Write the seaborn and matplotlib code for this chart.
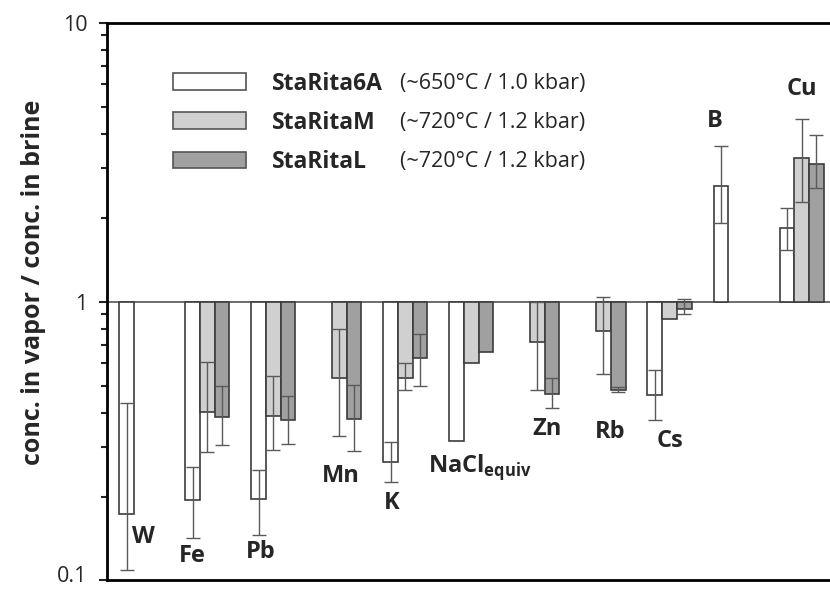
import numpy as np
import pandas as pd
import seaborn as sns
import matplotlib.pyplot as plt
import matplotlib.transforms as mtransforms
from matplotlib.patches import Patch

nan = np.nan

elements = ["W", "Fe", "Pb", "Mn", "K", "NaCl", "Zn", "Rb", "Cs", "B", "Cu"]
series = ["StaRita6A", "StaRitaM", "StaRitaL"]
conditions = ["(~650°C / 1.0 kbar)", "(~720°C / 1.2 kbar)", "(~720°C / 1.2 kbar)"]

# vapor/brine ratio, lower and upper end of the error bar
rita6a = [0.173, 0.194, 0.196, nan, 0.265, 0.316, nan, nan, 0.462, 2.60, 1.84]
rita6a_lo = [0.109, 0.142, 0.146, nan, 0.226, nan, nan, nan, 0.376, 1.92, 1.53]
rita6a_hi = [0.431, 0.256, 0.249, nan, 0.313, nan, nan, nan, 0.568, 3.61, 2.17]

ritam = [nan, 0.402, 0.388, 0.534, 0.530, 0.604, 0.716, 0.781, 0.867, nan, 3.28]
ritam_lo = [nan, 0.288, 0.293, 0.329, 0.482, nan, 0.482, 0.549, nan, nan, 2.28]
ritam_hi = [nan, 0.609, 0.541, 0.800, 0.602, nan, 1.000, 1.036, nan, nan, 4.53]

rital = [nan, 0.385, 0.375, 0.378, 0.629, 0.661, 0.467, 0.481, 0.942, nan, 3.10]
rital_lo = [nan, 0.305, 0.308, 0.291, 0.500, nan, 0.414, 0.472, 0.904, nan, 2.55]
rital_hi = [nan, 0.496, 0.459, 0.504, 0.762, nan, 0.532, 0.494, 1.020, nan, 3.94]

# element label placement (x in category units, y as ratio)
label_text = ["W", "Fe", "Pb", "Mn", "K", "NaCl$_{\\mathbf{equiv}}$", "Zn", "Rb", "Cs", "B", "Cu"]
label_x = [0.04, 0.77, 1.81, 3.02, 3.80, 5.13, 6.14, 7.10, 8.00, 8.69, 10.00]
label_y = [0.143, 0.122, 0.127, 0.236, 0.19, 0.256, 0.348, 0.342, 0.315, 4.42, 5.80]

colors = {"StaRita6A": "#ffffff", "StaRitaM": "#d0d0d0", "StaRitaL": "#a0a0a0"}

rows = []
for s, vals, los, his in [("StaRita6A", rita6a, rita6a_lo, rita6a_hi),
                          ("StaRitaM", ritam, ritam_lo, ritam_hi),
                          ("StaRitaL", rital, rital_lo, rital_hi)]:
    for el, v, lo, hi in zip(elements, vals, los, his):
        rows.append({"element": el, "series": s, "ratio": v, "lo": lo, "hi": hi})
df = pd.DataFrame(rows).dropna(subset=["ratio"])
df["log_ratio"] = np.log10(df["ratio"])

sns.set_style("ticks")
plt.rcParams["font.family"] = ["Open Sans", "DejaVu Sans"]
plt.rcParams["mathtext.fontset"] = "custom"
plt.rcParams["mathtext.rm"] = "Open Sans"
plt.rcParams["mathtext.bf"] = "Open Sans:bold"

fig = plt.figure(figsize=(8.3, 5.91), dpi=100)
ax = fig.add_axes([0.1289, 0.0178, 0.8711, 0.944])

width = 0.667
sns.barplot(data=df, x="element", y="log_ratio", hue="series",
            order=elements, hue_order=series, palette=colors,
            width=width, saturation=1, edgecolor="#3c3c3c", linewidth=1.2,
            errorbar=None, legend=False, ax=ax)

# error bars (drawn in log space)
offsets = np.linspace(-width / 3, width / 3, 3)
for _, r in df.dropna(subset=["lo"]).iterrows():
    x = elements.index(r["element"]) + offsets[series.index(r["series"])]
    y = np.log10(r["ratio"])
    ax.errorbar(x, y, yerr=[[y - np.log10(r["lo"])], [np.log10(r["hi"]) - y]],
                fmt="none", ecolor="#5a5a5a", elinewidth=1.0,
                capsize=5.2, capthick=1.0, zorder=3)

ax.axhline(0, color="#555555", lw=1.2, zorder=0.5)

for t, x, y in zip(label_text, label_x, label_y):
    ax.text(x, np.log10(y), t, ha="center", va="center",
            fontsize=17, fontweight="bold")

ax.set_xlim(-0.518, 10.43)
ax.set_ylim(-1, 1)
ax.set_xlabel("")
ax.tick_params(axis="x", bottom=False, labelbottom=False)

ax.set_yticks([-1, 0, 1])
ax.set_yticklabels(["0.1", "1", "10"])
minor = [np.log10(m * 10.0 ** d) for d in (-1, 0) for m in range(2, 10)]
ax.set_yticks(minor, minor=True)
ax.tick_params(axis="y", which="major", length=6, width=1.5, labelsize=15.5, pad=8, color="#222222")
ax.tick_params(axis="y", which="minor", length=4, width=1.5, color="#222222")
# nudge the bottom label up so it stays inside the figure
lowest = ax.get_yticklabels()[0]
lowest.set_transform(lowest.get_transform() +
                     mtransforms.ScaledTranslation(0, 5 / 72, fig.dpi_scale_trans))

ax.set_ylabel("conc. in vapor / conc. in brine", fontsize=18, fontweight="bold")
ax.yaxis.set_label_coords(-0.085, 0.535)

ax.spines["right"].set_visible(False)
for side in ["left", "top", "bottom"]:
    ax.spines[side].set_linewidth(2)
    ax.spines[side].set_color("black")

handles = [Patch(facecolor=colors[s], edgecolor="#555555", linewidth=1.2) for s in series]
leg = ax.legend(handles, series, loc="upper left", bbox_to_anchor=(0.0913, 0.912),
                frameon=False, prop={"weight": "bold", "size": 16.5},
                handlelength=3.2, handleheight=0.75, handletextpad=1.1,
                labelspacing=0.66, borderaxespad=0, borderpad=0)

fig.canvas.draw()
renderer = fig.canvas.get_renderer()
for t, cond in zip(leg.get_texts(), conditions):
    bb = t.get_window_extent(renderer)
    fig.text(400 / 830, (bb.y0 + bb.y1) / 2 / fig.bbox.height, cond,
             ha="left", va="center", fontsize=15.5)

fig.savefig("out.png", dpi=100)
